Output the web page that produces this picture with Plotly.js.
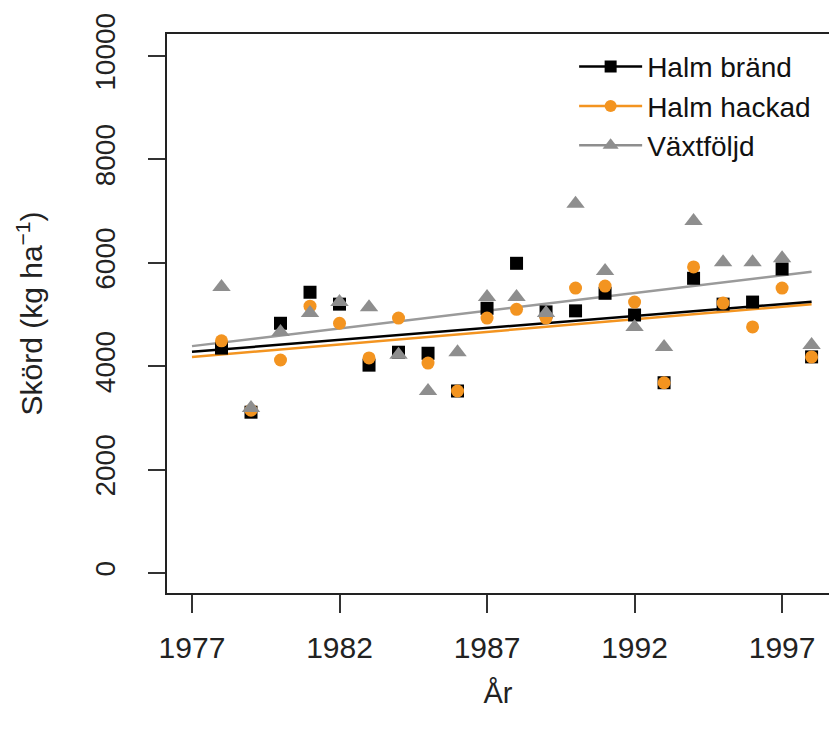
<!DOCTYPE html>
<html>
<head>
<meta charset="utf-8">
<script src="https://cdn.plot.ly/plotly-3.0.1.min.js"></script>
<style>html,body{margin:0;padding:0;background:#fff;}#chart{width:829px;height:733px;}</style>
</head>
<body>
<div id="chart"></div>
<script>
// Years of observation
var years = [1978,1979,1980,1981,1982,1983,1984,1985,1986,1987,1988,1989,1990,1991,1992,1993,1994,1995,1996,1997,1998];
// Skörd (kg/ha) per treatment
var halmBrand  = [4350,3110,4830,5430,5200,4020,4270,4250,3520,5120,5990,5050,5070,5410,4990,3680,5700,5200,5240,5880,4180];
var halmHackad = [4490,3150,4120,5160,4830,4160,4930,4060,3520,4930,5100,4930,5510,5550,5240,3680,5920,5220,4760,5510,4180];
var vaxtfoljd  = [5530,3190,4660,5030,5240,5140,4220,3520,4270,5340,5340,5030,7140,5840,4760,4370,6810,6010,6010,6090,4410];
// Trend line span (years)
var trendYears = [1977, 1998];
// Axis ticks
var xTickVals = [1977,1982,1987,1992,1997];
var xTickText = ["1977","1982","1987","1992","1997"];
var yTickVals = [0,2000,4000,6000,8000,10000];
var yTickText = ["0","2000","4000","6000","8000","10000"];
var seriesNames = ["Halm bränd","Halm hackad","Växtföljd"];

// least-squares trend of a series, evaluated at the given years
function fit(xs, ys, at) {
  var n = xs.length, mx = 0, my = 0;
  for (var i = 0; i < n; i++) { mx += xs[i]; my += ys[i]; }
  mx /= n; my /= n;
  var sxy = 0, sxx = 0;
  for (var j = 0; j < n; j++) { sxy += (xs[j]-mx)*(ys[j]-my); sxx += (xs[j]-mx)*(xs[j]-mx); }
  var b = sxy / sxx, a = my - b*mx;
  return at.map(function(x){ return a + b*x; });
}

var cBlack = "#000000", cOrange = "#F39420", cGray = "#8E8E8E", cGrayLine = "#9A9A9A";

var traces = [
  {x: trendYears, y: fit(years, vaxtfoljd, trendYears), mode: "lines", line: {color: cGrayLine, width: 2.5}, showlegend: false, hoverinfo: "skip"},
  {x: trendYears, y: fit(years, halmHackad, trendYears), mode: "lines", line: {color: cOrange, width: 2.5}, showlegend: false, hoverinfo: "skip"},
  {x: trendYears, y: fit(years, halmBrand, trendYears), mode: "lines", line: {color: cBlack, width: 2.5}, showlegend: false, hoverinfo: "skip"},
  {x: years, y: halmBrand, name: seriesNames[0], mode: "markers", marker: {symbol: "square", size: 13, color: cBlack}, showlegend: false},
  {x: years, y: halmHackad, name: seriesNames[1], mode: "markers", marker: {symbol: "circle", size: 13, color: cOrange}, showlegend: false},
  {x: years, y: vaxtfoljd, name: seriesNames[2], mode: "markers", marker: {symbol: "triangle-up", size: 16, color: cGray}, showlegend: false},
  // legend keys (line + marker, as in the reference)
  {x: [null], y: [null], name: seriesNames[0], mode: "lines+markers", line: {color: cBlack, width: 2.5}, marker: {symbol: "square", size: 12, color: cBlack}},
  {x: [null], y: [null], name: seriesNames[1], mode: "lines+markers", line: {color: cOrange, width: 2.5}, marker: {symbol: "circle", size: 12, color: cOrange}},
  {x: [null], y: [null], name: seriesNames[2], mode: "lines+markers", line: {color: cGray, width: 2.5}, marker: {symbol: "triangle-up", size: 14, color: cGray}},
  // carrier for the top border line
  {x: [null], y: [null], xaxis: "x2", showlegend: false, hoverinfo: "skip"}
];

var font = "Liberation Sans, Arial, sans-serif";
var layout = {
  width: 829, height: 733,
  margin: {l: 167, r: 0, t: 34, b: 140},
  paper_bgcolor: "#fff", plot_bgcolor: "#fff",
  font: {family: font, size: 28, color: "#222"},
  showlegend: true,
  legend: {x: 0.615, y: 0.986, xanchor: "left", yanchor: "top", font: {size: 28, color: "#111"}, bgcolor: "rgba(0,0,0,0)", tracegroupgap: 0, itemwidth: 63},
  xaxis: {
    range: [1976.153, 1998.59], tickmode: "array", tickvals: xTickVals, ticktext: xTickText,
    showgrid: false, zeroline: false, showline: true, mirror: false, linecolor: "#222", linewidth: 2,
    ticks: "outside", ticklen: 18, tickwidth: 2, tickcolor: "#333", ticklabelstandoff: 9,
    tickfont: {size: 30, color: "#222"},
    title: {text: "År", font: {size: 29, color: "#222"}, standoff: 20}
  },
  xaxis2: {overlaying: "x", matches: "x", side: "top", showline: true, linecolor: "#222", linewidth: 2, showticklabels: false, ticks: "", showgrid: false, zeroline: false},
  yaxis: {
    range: [-387, 10425], tickmode: "array", tickvals: yTickVals, ticktext: yTickText,
    showgrid: false, zeroline: false, showline: true, linecolor: "#222", linewidth: 2,
    ticks: "outside", ticklen: 17, tickwidth: 2, tickcolor: "#333", tickangle: -90, ticklabelstandoff: 22,
    tickfont: {size: 28, color: "#222"},
    title: {text: "Skörd (kg ha<sup>−1</sup>)", font: {size: 30, color: "#222"}, standoff: 38}
  }
};

Plotly.newPlot("chart", traces, layout, {staticPlot: true});
</script>
</body>
</html>
